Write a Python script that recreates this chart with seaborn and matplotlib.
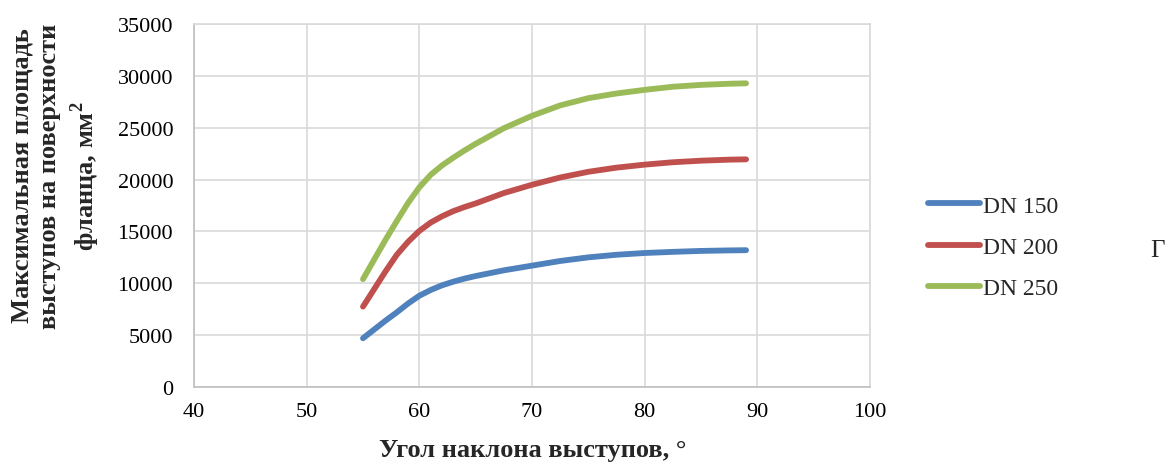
import matplotlib
matplotlib.use("Agg")
import matplotlib.pyplot as plt
import seaborn as sns
import pandas as pd

# Angle of the protrusions, degrees
angles = [55, 56, 57, 58, 59, 60, 61, 62, 63, 64, 65,
          67.5, 70, 72.5, 75, 77.5, 80, 82.5, 85, 87.5, 89]

# Maximum protrusion area on the flange surface, mm^2
dn150 = [4700, 5550, 6400, 7200, 8050, 8800, 9350, 9800, 10150, 10450, 10700,
         11250, 11700, 12150, 12500, 12750, 12920, 13030, 13120, 13170, 13190]
dn200 = [7750, 9450, 11150, 12750, 14000, 15050, 15850, 16450, 16950, 17350, 17700,
         18700, 19500, 20200, 20750, 21150, 21440, 21670, 21820, 21920, 21950]
dn250 = [10400, 12300, 14200, 16000, 17750, 19250, 20450, 21350, 22100, 22800, 23450,
         24950, 26150, 27150, 27850, 28300, 28650, 28950, 29130, 29240, 29280]

series_names = ["DN 150", "DN 200", "DN 250"]
series_colors = ["#4f81bd", "#c0504d", "#9bbb59"]

x_ticks = [40, 50, 60, 70, 80, 90, 100]
y_ticks = [0, 5000, 10000, 15000, 20000, 25000, 30000, 35000]

x_label = "Угол наклона выступов, °"
y_label = "Максимальная площадь\nвыступов на поверхности\nфланца, мм$^\\mathbf{2}$"
side_mark = "Г"

df = pd.concat(
    [pd.DataFrame({"angle": angles, "area": vals, "series": name})
     for name, vals in zip(series_names, [dn150, dn200, dn250])],
    ignore_index=True,
)

sns.set_theme(style="white")
plt.rcParams["font.family"] = ["Liberation Serif", "DejaVu Serif"]
plt.rcParams["mathtext.fontset"] = "custom"
plt.rcParams["mathtext.rm"] = "Liberation Serif"
plt.rcParams["mathtext.bf"] = "Liberation Serif:bold"

fig = plt.figure(figsize=(11.68, 4.64), dpi=100)
ax = fig.add_axes([194 / 1168, 1 - 388 / 464, (870 - 194) / 1168, (388 - 25) / 464])

line_w = 4.2
sns.lineplot(
    data=df, x="angle", y="area", hue="series",
    palette=dict(zip(series_names, series_colors)),
    linewidth=line_w, solid_capstyle="round", solid_joinstyle="round",
    ax=ax, legend=True,
)

ax.set_xlim(x_ticks[0], x_ticks[-1])
ax.set_ylim(y_ticks[0], y_ticks[-1])
ax.set_xticks(x_ticks)
ax.set_yticks(y_ticks)
ax.set_xticklabels([str(t) for t in x_ticks], fontsize=16)
ax.set_yticklabels([str(t) for t in y_ticks], fontsize=16)
ax.tick_params(axis="both", length=0, colors="black")
ax.tick_params(axis="x", pad=11)
ax.tick_params(axis="y", pad=15)

ax.grid(True, color="#d9d9d9", linewidth=1.2)
ax.set_axisbelow(True)
for spine in ax.spines.values():
    spine.set_color("#d9d9d9")
    spine.set_linewidth(1.2)
ax.spines["left"].set_color("#bfbfbf")
ax.spines["bottom"].set_color("#bfbfbf")

ax.set_xlabel("")
ax.set_ylabel("")
fig.text(533 / 1168, 1 - 451 / 464, x_label, ha="center", va="center",
         fontsize=19, fontweight="bold")
fig.text(56 / 1168, 1 - 176 / 464, y_label, ha="center", va="center",
         rotation=90, fontsize=19, fontweight="bold", multialignment="center",
         linespacing=1.28)

handles, labels = ax.get_legend_handles_labels()
leg = ax.legend(
    handles, labels, loc="center left",
    bbox_to_anchor=(928 / 1168, 1 - 248 / 464), bbox_transform=fig.transFigure,
    frameon=False, fontsize=17, handlelength=2.2, handletextpad=0.13,
    labelspacing=0.83, borderpad=0, borderaxespad=0,
)
for line in leg.get_lines():
    line.set_linewidth(line_w)
    line.set_solid_capstyle("round")

fig.text(1157 / 1168, 1 - 251 / 464, side_mark, ha="center", va="center", fontsize=18)

fig.savefig("out.png", dpi=100)
